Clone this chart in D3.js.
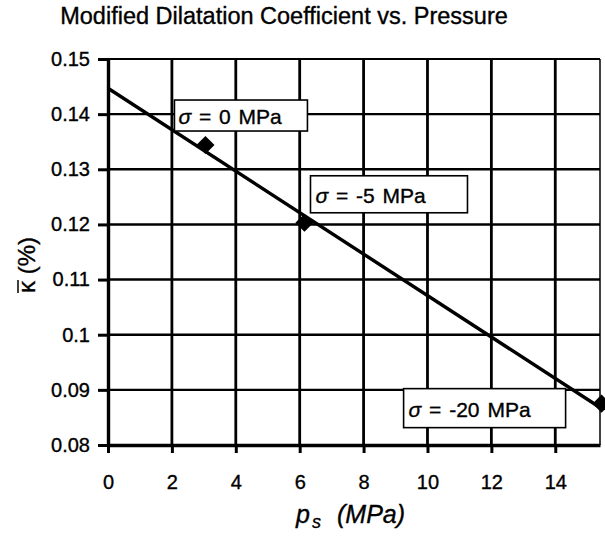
<!DOCTYPE html>
<html>
<head>
<meta charset="utf-8">
<script src="https://cdn.jsdelivr.net/npm/d3@7/dist/d3.min.js"></script>
<style>
  html, body { margin: 0; padding: 0; background: #fff; }
  svg { display: block; font-family: "Liberation Sans", Arial, sans-serif; }
  svg text { stroke: #000; stroke-width: 0.35px; }
</style>
</head>
<body>
<svg id="chart" width="605" height="537"></svg>
<script>
// Measured points: surface pressure p_s (MPa) vs modified dilatation coefficient (%)
const pressure = [3.05, 6.15, 15.45];
const kappa = [0.1344, 0.1203, 0.0875];
const stress = ["0", "-5", "-20"];

// Straight fit line through the measurements
const fitPressure = [0, 15.4];
const fitKappa = [0.1447, 0.0868];

// Axis ticks
const xTicks = [0, 2, 4, 6, 8, 10, 12, 14];
const yTicks = [0.08, 0.09, 0.10, 0.11, 0.12, 0.13, 0.14, 0.15];
const yTickLabels = ["0.08", "0.09", "0.1", "0.11", "0.12", "0.13", "0.14", "0.15"];

const svg = d3.select("#chart");
const W = 605, H = 537;
const margin = { left: 108, right: 5, top: 59, bottom: 92 };

svg.append("rect").attr("width", W).attr("height", H).attr("fill", "#fff");

const x = d3.scaleLinear().domain([0, 15.4]).range([margin.left, W - margin.right]);
const y = d3.scaleLinear().domain([0.08, 0.15]).range([H - margin.bottom, margin.top]);

// Title
svg.append("text")
  .attr("x", 284).attr("y", 24)
  .attr("text-anchor", "middle")
  .attr("font-size", 23.5)
  .attr("fill", "#000")
  .text("Modified Dilatation Coefficient vs. Pressure");

// Grid lines
const grid = svg.append("g");
grid.selectAll("line.v")
  .data(xTicks.filter(d => d > 0))
  .join("line")
  .attr("x1", d => x(d)).attr("x2", d => x(d))
  .attr("y1", y(0.15)).attr("y2", y(0.08))
  .attr("stroke", "#000").attr("stroke-width", 2.8);
grid.selectAll("line.h")
  .data(yTicks.filter(d => d > 0.08 && d < 0.15))
  .join("line")
  .attr("x1", x(0)).attr("x2", x(15.4))
  .attr("y1", d => y(d)).attr("y2", d => y(d))
  .attr("stroke", "#000").attr("stroke-width", 2.4);

// Plot frame: top and right edges
svg.append("line")
  .attr("x1", x(0)).attr("x2", x(15.4))
  .attr("y1", y(0.15)).attr("y2", y(0.15))
  .attr("stroke", "#000").attr("stroke-width", 2);
svg.append("line")
  .attr("x1", x(15.4)).attr("x2", x(15.4))
  .attr("y1", y(0.15)).attr("y2", y(0.08))
  .attr("stroke", "#000").attr("stroke-width", 1.5);

// Axes
const yAxis = d3.axisLeft(y)
  .tickValues(yTicks)
  .tickFormat((d, i) => yTickLabels[i])
  .tickSize(10).tickPadding(8).tickSizeOuter(0);
const gy = svg.append("g").attr("transform", `translate(${x(0)},0)`).call(yAxis);

const xAxis = d3.axisBottom(x)
  .tickValues(xTicks)
  .tickFormat(d3.format("d"))
  .tickSize(8).tickPadding(22).tickSizeOuter(0);
const gx = svg.append("g").attr("transform", `translate(0,${y(0.08)})`).call(xAxis);

[gx, gy].forEach(g => {
  g.select(".domain").attr("stroke", "#000").attr("stroke-width", 3.4);
  g.selectAll(".tick line").attr("stroke", "#000").attr("stroke-width", 3);
  g.selectAll(".tick text").attr("font-size", 20).attr("fill", "#000")
    .attr("font-family", "'Liberation Sans', Arial, sans-serif");
});

// Axis titles
const xl = svg.append("text")
  .attr("y", 523)
  .attr("font-size", 25).attr("font-style", "italic").attr("fill", "#000");
xl.append("tspan").attr("x", 296).text("p");
xl.append("tspan").attr("x", 312).attr("font-size", 18).attr("dy", 5).text("s");
xl.append("tspan").attr("x", 337).attr("dy", -5).text("(MPa)");

// Y title: kappa with an overbar, then (%)
const yl = svg.append("g").attr("transform", "translate(35,256) rotate(-90)");
const ylText = yl.append("text")
  .attr("x", -37).attr("y", 0)
  .attr("font-size", 24).attr("fill", "#000");
ylText.append("tspan").text("\u03BA");
ylText.append("tspan").text(" (%)");
yl.append("line")
  .attr("x1", -37).attr("x2", -24)
  .attr("y1", -17).attr("y2", -17)
  .attr("stroke", "#000").attr("stroke-width", 1.5);

// Fit line
const line = d3.line().x(d => x(d[0])).y(d => y(d[1]));
svg.append("path")
  .datum(fitPressure.map((p, i) => [p, fitKappa[i]]))
  .attr("d", line)
  .attr("fill", "none").attr("stroke", "#000").attr("stroke-width", 3.4);

// Measured points as diamonds
const points = pressure.map((p, i) => ({ p, k: kappa[i], s: stress[i] }));
svg.selectAll("path.pt")
  .data(points)
  .join("path")
  .attr("class", "pt")
  .attr("d", d3.symbol().type(d3.symbolSquare).size(165))
  .attr("transform", d => `translate(${x(d.p)},${y(d.k)}) rotate(45)`)
  .attr("fill", "#000");

// Stress labels in boxes beside each point
const boxes = [
  { dx: -31, dy: -45, w: 133, h: 31, tx: 4, ty: 24 },
  { dx: 6, dy: -47, w: 157, h: 37, tx: 5, ty: 27 },
  { dx: -198, dy: -15, w: 162, h: 39, tx: 5, ty: 28 }
];
const lab = svg.selectAll("g.lab")
  .data(points)
  .join("g")
  .attr("class", "lab")
  .attr("transform", (d, i) => `translate(${x(d.p) + boxes[i].dx},${y(d.k) + boxes[i].dy})`);
lab.append("rect")
  .attr("width", (d, i) => boxes[i].w).attr("height", (d, i) => boxes[i].h)
  .attr("fill", "#fff").attr("stroke", "#000").attr("stroke-width", 1.6);
const lt = lab.append("text")
  .attr("x", (d, i) => boxes[i].tx).attr("y", (d, i) => boxes[i].ty)
  .attr("font-size", 21).attr("fill", "#000").attr("word-spacing", 2);
lt.append("tspan").attr("font-style", "italic").text("\u03C3");
lt.append("tspan").text(d => ` = ${d.s} MPa`);
</script>
</body>
</html>
